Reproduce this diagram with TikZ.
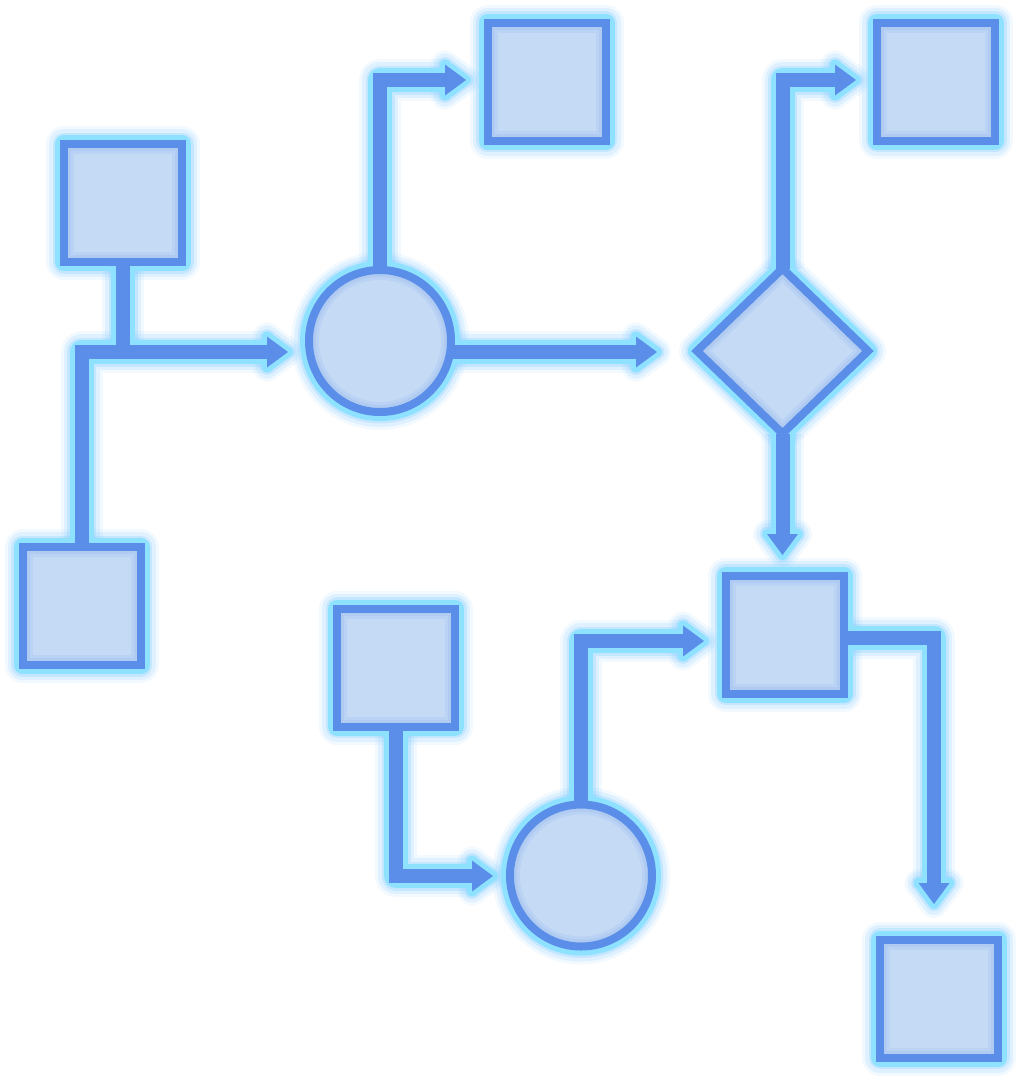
\documentclass[tikz,border=0pt]{standalone}
\usetikzlibrary{shapes.geometric,calc}
\definecolor{fillc}{RGB}{197,218,245}
\definecolor{bluec}{RGB}{90,142,232}
\definecolor{cyanc}{RGB}{142,226,255}
\definecolor{glowc}{RGB}{130,205,255}
\pgfdeclarelayer{glow}
\pgfdeclarelayer{lcyan}
\pgfdeclarelayer{lblue}
\pgfsetlayers{glow,lcyan,lblue,main}
\tikzset{
  shapebase/.style={fill=fillc, draw=bluec, line width=8pt, inner sep=0pt, outer sep=0pt, line join=miter},
  sq/.style={shapebase, rectangle, minimum size=118pt},
  circ/.style={shapebase, circle, minimum size=142pt},
  dia/.style={shapebase, diamond, minimum width=171pt, minimum height=165pt},
  innersh/.style={draw=bluec, line width=6pt, draw opacity=0.10},
  innershb/.style={draw=bluec, line width=3pt, draw opacity=0.10},
  blueline/.style={draw=bluec, line width=14pt, line join=miter},
  bluehead/.style={fill=bluec},
}
% outlines of all shapes
\newcommand\shapeoutlines[1]{%
  \foreach \n in {s1,s2,s3,s4,s5,s6,s7}{\draw[#1] (\n.north west) rectangle (\n.south east);}
  \draw[#1] (c1.center) circle[radius=71pt];
  \draw[#1] (c2.center) circle[radius=71pt];
  \draw[#1] (d.north) -- (d.east) -- (d.south) -- (d.west) -- cycle;
}
% connector paths
\newcommand\connpaths[1]{%
  \draw[#1] (s4.north) |- ($(t1)+(-16,0)$);
  \draw[#1] (s1.south) -- (s1.south |- t1);
  \draw[#1] (c1.north) |- ($(t2)+(-16,0)$);
  \draw[#1] (c1.center |- t3) -- ($(t3)+(-16,0)$);
  \draw[#1] (d.north) |- ($(t4)+(-16,0)$);
  \draw[#1] (d.south) -- ($(t5)+(0,-16)$);
  \draw[#1] (s5.south) |- ($(t6)+(-16,0)$);
  \draw[#1] (c2.north) |- ($(t7)+(-16,0)$);
  \draw[#1] (s6.center |- k9) -| ($(t8)+(0,-16)$);
}
% arrow heads
\newcommand\headpaths[1]{%
  \foreach \t in {t1,t2,t3,t4,t6,t7}{\path[#1] (\t) -- ++(-21,-15.5) -- ++(0,31) -- cycle;}
  \foreach \t in {t5,t8}{\path[#1] (\t) -- ++(-15.5,-21) -- ++(31,0) -- cycle;}
}
% inner soft band of the shapes, inset #1
\newcommand\innerband[2]{%
  \foreach \n in {s1,s2,s3,s4,s5,s6,s7}{\draw[#2] ([shift={(#1,#1)}]\n.north west) rectangle ([shift={(-#1,-#1)}]\n.south east);}
  \draw[#2] (c1.center) circle[radius=71pt-#1pt];
  \draw[#2] (c2.center) circle[radius=71pt-#1pt];
  \draw[#2] ($(d.north)+(0,1.4*#1)$) -- ($(d.east)+(-1.47*#1,0)$) -- ($(d.south)+(0,-1.4*#1)$) -- ($(d.west)+(1.47*#1,0)$) -- cycle;
}
% one halo pass: #1 shape width, #2 line width, #3 head stroke, #4 opacity, #5 colour
\newcommand\halopass[5]{%
  \begin{scope}[line join=round, draw opacity=#4, fill opacity=#4]
    \shapeoutlines{draw=#5, line width=#1pt}
    \connpaths{draw=#5, line width=#2pt}
    \headpaths{draw=#5, fill=#5, line width=#3pt}
  \end{scope}
}
\begin{document}
\begin{tikzpicture}[x=1pt, y=-1pt]
  \useasboundingbox (0,0) rectangle (1020,1080);
  % nodes
  \node[sq] (s1) at (123,203) {};
  \node[sq] (s2) at (546.5,81.5) {};
  \node[sq] (s3) at (936,81.5) {};
  \node[sq] (s4) at (81.5,606) {};
  \node[sq] (s5) at (396,667.5) {};
  \node[sq] (s6) at (785,634.5) {};
  \node[sq] (s7) at (939,998.5) {};
  \node[circ] (c1) at (380,341) {};
  \node[circ] (c2) at (581,875.5) {};
  \node[dia] (d) at (782.5,351) {};
  % connector ends
  \coordinate (t1) at (288,352);
  \coordinate (t2) at (466,80);
  \coordinate (t3) at (657,352);
  \coordinate (t4) at (856,80);
  \coordinate (t5) at (782.5,555);
  \coordinate (t6) at (493,876);
  \coordinate (t7) at (704,641);
  \coordinate (t8) at (934,904);
  \coordinate (k9) at (934,638);
  % soft inner shading of the shapes
  \innerband{7}{innersh}
  \innerband{5.5}{innershb}
  % halo
  \begin{pgfonlayer}{glow}
    \fill[white] (0,0) rectangle (1020,1080);
    \halopass{36}{42}{28}{0.10}{glowc}
    \halopass{30}{36}{22}{0.16}{glowc}
    \halopass{23}{29}{15}{0.28}{glowc}
  \end{pgfonlayer}
  \begin{pgfonlayer}{lcyan}
    \halopass{18}{24}{10}{1}{cyanc}
  \end{pgfonlayer}
  \begin{pgfonlayer}{lblue}
    \connpaths{blueline}
    \headpaths{bluehead}
  \end{pgfonlayer}
\end{tikzpicture}
\end{document}
